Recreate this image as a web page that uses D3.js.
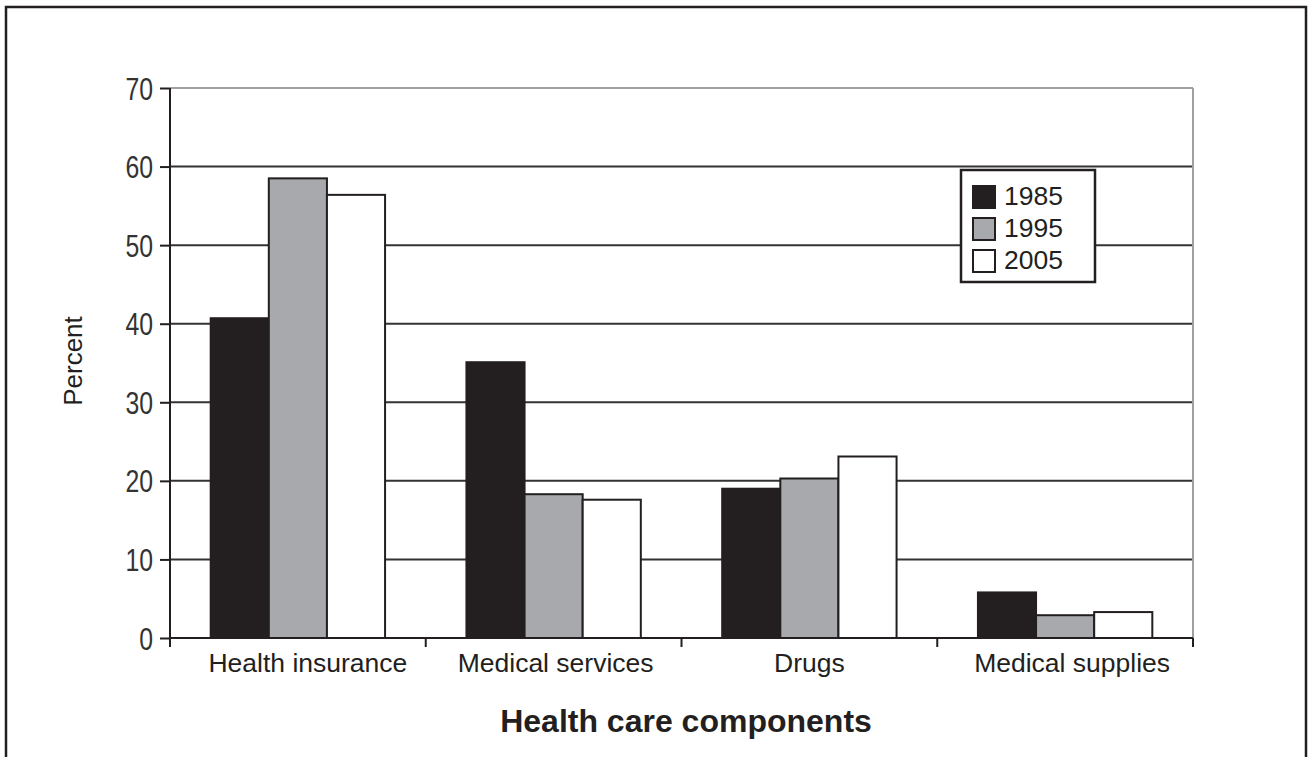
<!DOCTYPE html>
<html>
<head>
<meta charset="utf-8">
<script src="https://cdn.jsdelivr.net/npm/d3@7"></script>
<style>
  html, body { margin: 0; padding: 0; background: #fff; }
  svg { display: block; }
  text { font-family: "Liberation Sans", Arial, sans-serif; fill: #231f20; }
</style>
</head>
<body>
<svg id="chart" width="1308" height="757"></svg>
<script>
const categories = ["Health insurance", "Medical services", "Drugs", "Medical supplies"];
const years = ["1985", "1995", "2005"];
const values1985 = [40.7, 35.1, 19.0, 5.8];
const values1995 = [58.5, 18.3, 20.3, 2.9];
const values2005 = [56.4, 17.6, 23.1, 3.3];
const yTicks = [0, 10, 20, 30, 40, 50, 60, 70];
const yLabel = "Percent";
const xLabel = "Health care components";

const seriesValues = [values1985, values1995, values2005];
const colors = ["#231f20", "#a7a9ac", "#ffffff"];
const ink = "#231f20";
// small horizontal nudges of category labels as in the original
const labelNudge = [10, 2, 0, 7];

const svg = d3.select("#chart");

// outer frame (open at the bottom)
svg.append("path")
  .attr("d", "M6,760 L6,7 L1306,7 L1306,760")
  .attr("fill", "none").attr("stroke", ink).attr("stroke-width", 2.5);

const plotLeft = 170, plotRight = 1193, plotTop = 88, plotBottom = 638;
const x = d3.scaleBand().domain(categories).range([plotLeft, plotRight]).paddingInner(0).paddingOuter(0);
const xSub = d3.scaleBand().domain(years).range([0, x.bandwidth()]).paddingInner(0).paddingOuter(0.7);
const y = d3.scaleLinear().domain([0, 70]).range([plotBottom, plotTop]);

// gridlines
svg.append("g").selectAll("line").data(yTicks.filter(t => t > 0))
  .join("line")
  .attr("x1", plotLeft).attr("x2", plotRight)
  .attr("y1", d => y(d)).attr("y2", d => y(d))
  .attr("stroke", d => d === 70 ? "#a0a0a0" : "#333")
  .attr("stroke-width", 2);
// right border of plot
svg.append("line")
  .attr("x1", plotRight).attr("x2", plotRight).attr("y1", plotTop).attr("y2", plotBottom)
  .attr("stroke", "#a0a0a0").attr("stroke-width", 2);

// bars
const groups = svg.append("g").selectAll("g").data(categories).join("g")
  .attr("transform", d => `translate(${x(d)},0)`);
groups.selectAll("rect")
  .data((c, ci) => years.map((yr, si) => ({ yr, si, v: seriesValues[si][ci] })))
  .join("rect")
  .attr("x", d => xSub(d.yr))
  .attr("width", xSub.bandwidth())
  .attr("y", d => y(d.v))
  .attr("height", d => y(0) - y(d.v))
  .attr("fill", d => colors[d.si])
  .attr("stroke", ink).attr("stroke-width", 2);

// y axis
const yAxis = d3.axisLeft(y).tickValues(yTicks).tickSize(10).tickPadding(7).tickSizeOuter(0);
const gy = svg.append("g").attr("transform", `translate(${plotLeft},0)`).call(yAxis);
gy.select(".domain").remove();
gy.selectAll(".tick line").attr("stroke", ink).attr("stroke-width", 2);
gy.selectAll(".tick text")
  .attr("x", null).attr("dy", null)
  .attr("font-size", 31)
  .attr("text-anchor", "end")
  .attr("transform", "translate(-17,11) scale(0.8,1)")
  .style("fill", "#333");
svg.append("line")
  .attr("x1", plotLeft).attr("x2", plotLeft).attr("y1", plotTop).attr("y2", plotBottom + 9)
  .attr("stroke", ink).attr("stroke-width", 2);

// x axis
const xAxis = d3.axisBottom(x).tickSize(0).tickPadding(0);
const gx = svg.append("g").attr("transform", `translate(0,${plotBottom})`).call(xAxis);
gx.select(".domain").remove();
gx.selectAll(".tick text")
  .attr("y", 34).attr("dy", null)
  .attr("x", (d, i) => labelNudge[i])
  .attr("font-size", 26.5)
  .style("fill", ink);
svg.append("line")
  .attr("x1", plotLeft).attr("x2", plotRight).attr("y1", plotBottom).attr("y2", plotBottom)
  .attr("stroke", ink).attr("stroke-width", 2);
// category boundary ticks
svg.append("g").selectAll("line")
  .data(categories.map(c => x(c)).concat([x(categories[categories.length - 1]) + x.bandwidth()]))
  .join("line")
  .attr("x1", d => d).attr("x2", d => d)
  .attr("y1", plotBottom).attr("y2", plotBottom + 9)
  .attr("stroke", ink).attr("stroke-width", 2);

// axis titles
svg.append("text")
  .attr("transform", `translate(82,${(plotTop + plotBottom) / 2 - 2}) rotate(-90)`)
  .attr("text-anchor", "middle")
  .attr("font-size", 26)
  .text(yLabel);
svg.append("text")
  .attr("x", 686).attr("y", 732)
  .attr("text-anchor", "middle")
  .attr("font-size", 32).attr("font-weight", "bold")
  .text(xLabel);

// legend
const lg = svg.append("g").attr("transform", "translate(961,170)");
lg.append("rect").attr("x", 0).attr("y", 0).attr("width", 134).attr("height", 112)
  .attr("fill", "#fff").attr("stroke", ink).attr("stroke-width", 2.5);
const li = lg.selectAll("g.item").data(years).join("g")
  .attr("class", "item")
  .attr("transform", (d, i) => `translate(12,${16 + i * 32})`);
li.append("rect").attr("width", 22).attr("height", 22)
  .attr("fill", (d, i) => colors[i]).attr("stroke", ink).attr("stroke-width", 2);
li.append("text").attr("x", 31).attr("y", 19)
  .attr("font-size", 26.5)
  .text(d => d);
</script>
</body>
</html>
